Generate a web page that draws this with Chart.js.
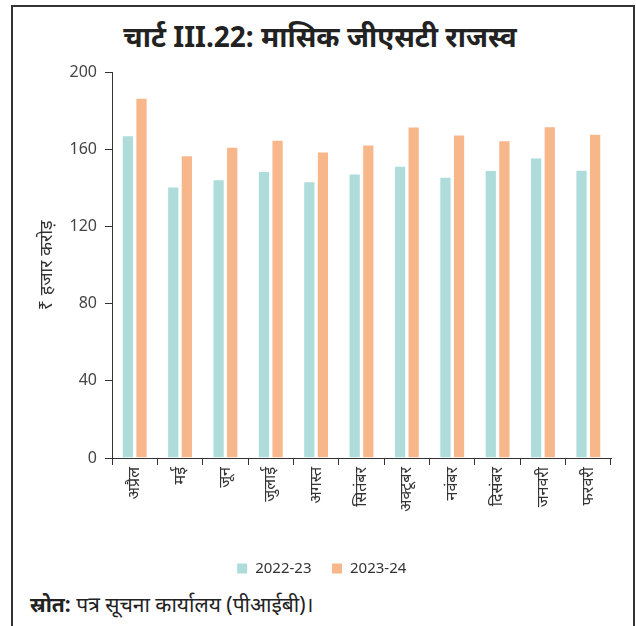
<!DOCTYPE html>
<html>
<head>
<meta charset="utf-8">
<script src="https://cdn.jsdelivr.net/npm/chart.js@4.4.0/dist/chart.umd.min.js"></script>
<style>
  body { margin: 0; background: #fff; font-family: "Noto Sans", sans-serif; }
  #frame {
    position: absolute; left: 11px; top: 5px; width: 620px; height: 630px;
    border-top: 2px solid #333; border-left: 2px solid #333; border-right: 2px solid #333;
  }
  #title {
    position: absolute; left: 0; top: 17px; width: 640px; text-align: center;
    font-size: 28px; font-weight: bold; color: #222;
  }
  #wrap { position: absolute; left: 12px; top: 55px; width: 620px; height: 531px; }
  #source { position: absolute; left: 30px; top: 590px; font-size: 21px; color: #222; }
</style>
</head>
<body>
<div id="frame"></div>
<div id="title">चार्ट III.22: मासिक जीएसटी राजस्व</div>
<div id="wrap"><canvas id="chart"></canvas></div>
<div id="source"><b>स्रोत:</b> पत्र सूचना कार्यालय (पीआईबी)।</div>
<script>
'use strict';

const months = ['अप्रैल', 'मई', 'जून', 'जुलाई', 'अगस्त', 'सितंबर', 'अक्टूबर', 'नवंबर', 'दिसंबर', 'जनवरी', 'फरवरी'];
const fy2223 = [167.5, 140.9, 144.6, 148.9, 143.6, 147.7, 151.7, 145.9, 149.5, 155.9, 149.6];
const fy2324 = [187.0, 157.1, 161.5, 165.1, 159.1, 162.7, 172.0, 167.9, 164.9, 172.1, 168.3];
const yTicks = [0, 40, 80, 120, 160, 200];

let canvasElem = document.getElementById('chart');

const data = {
  labels: months,
  datasets: [
    {
      label: '2022-23',
      data: fy2223,
      backgroundColor: '#aedcda',
      borderColor: '#ffffff',
      borderWidth: 1,
      categoryPercentage: 0.6,
      barPercentage: 0.9,
    },
    {
      label: '2023-24',
      data: fy2324,
      backgroundColor: '#f8b68b',
      borderColor: '#ffffff',
      borderWidth: 1,
      categoryPercentage: 0.6,
      barPercentage: 0.9,
    },
  ],
};

const options = {
  responsive: true,
  maintainAspectRatio: false,
  animation: false,
  layout: { padding: { top: 3, right: 21, left: 20, bottom: 0 } },
  plugins: {
    legend: {
      position: 'bottom',
      labels: {
        boxWidth: 11, boxHeight: 11, padding: 20,
        color: '#333', font: { family: 'Noto Sans', size: 15 },
      },
    },
    tooltip: { enabled: false },
  },
  scales: {
    x: {
      grid: { drawOnChartArea: false, tickLength: 7, color: '#333', offset: true },
      border: { color: '#333', width: 1 },
      ticks: {
        minRotation: 90, maxRotation: 90, color: '#333', padding: 2,
        font: { family: 'Noto Sans', size: 16 },
      },
      afterFit: (scale) => { scale.height = 83; },
    },
    y: {
      min: 0, max: 200,
      afterBuildTicks: (scale) => { scale.ticks = yTicks.map(v => ({ value: v })); },
      grid: { drawOnChartArea: false, tickLength: 7, color: '#333' },
      border: { color: '#333', width: 1 },
      ticks: { color: '#444', padding: 8, font: { family: 'Noto Sans', size: 16 } },
      title: {
        display: true, text: '₹ हजार करोड़', color: '#333',
        font: { family: 'Noto Sans', size: 18 }, padding: { bottom: 0 },
      },
      afterFit: (scale) => { scale.width = 80; },
    },
  },
};

new Chart(canvasElem, {
  type: 'bar',
  data: data,
  options: options,
});
</script>
</body>
</html>
